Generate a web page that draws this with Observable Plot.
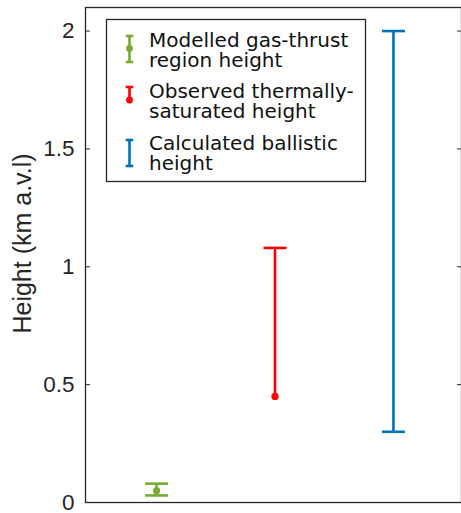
<!DOCTYPE html>
<html><head><meta charset="utf-8">
<script src="https://cdn.jsdelivr.net/npm/d3@7"></script>
<script src="https://cdn.jsdelivr.net/npm/@observablehq/plot@0.6"></script>
<style>
body{margin:0;background:#fff;overflow:hidden}
#wrap{position:relative;width:461px;height:513px}
#legend{position:absolute;left:0;top:0}
</style>
</head><body><div id="wrap"></div>
<script>
const seriesNames = ["Modelled gas-thrust region height", "Observed thermally-saturated height", "Calculated ballistic height"];
const legendLines = [["Modelled gas-thrust", "region height"], ["Observed thermally-", "saturated height"], ["Calculated ballistic", "height"]];
const xPositions = [1, 2, 3];
const lowValues = [0.03, 0.45, 0.30];
const highValues = [0.08, 1.08, 2.0];
const markerValues = [0.05, 0.45, null];
const hasLowCap = [true, false, true];
const seriesColors = ["#77AC30", "#FF0000", "#0072BD"];
const yTicks = [0, 0.5, 1, 1.5, 2];
const yLabel = "Height (km a.v.l)";

const data = seriesNames.map((name, i) => ({
  name, x: xPositions[i], low: lowValues[i], high: highValues[i],
  mark: markerValues[i], lowCap: hasLowCap[i], color: seriesColors[i]
}));
const capHalf = 0.097;
const ink = "#262626";

const plot = Plot.plot({
  width: 461, height: 513,
  marginLeft: 85, marginTop: 7, marginBottom: 11, marginRight: 0,
  style: {fontFamily: "'Liberation Sans', Arial, sans-serif", fontSize: "22px", color: ink, background: "white"},
  x: {domain: [0.4, 3.6], range: [85, 464], axis: null},
  y: {domain: [0, 2.1], axis: null},
  color: {type: "identity"},
  marks: [
    Plot.frame({stroke: ink, strokeWidth: 1.3}),
    Plot.axisY(yTicks, {anchor: "left", tickSize: -5, tickPadding: 16, tickFormat: d => String(d), fontSize: 22.5, label: null, stroke: ink, fill: ink}),
    Plot.axisY(yTicks, {anchor: "right", tickSize: -5, tickFormat: () => "", label: null, stroke: ink}),
    Plot.text([yLabel], {frameAnchor: "left", textAnchor: "middle", lineAnchor: "middle", rotate: -90, dx: -63, dy: -11.5, fontSize: 25, fill: ink, text: d => d}),
    Plot.ruleX(data, {x: "x", y1: "low", y2: "high", stroke: "color", strokeWidth: 2.6}),
    Plot.link(data, {x1: d => d.x - capHalf, x2: d => d.x + capHalf, y1: "high", y2: "high", stroke: "color", strokeWidth: 2.6}),
    Plot.link(data.filter(d => d.lowCap), {x1: d => d.x - capHalf, x2: d => d.x + capHalf, y1: "low", y2: "low", stroke: "color", strokeWidth: 2.6}),
    Plot.dot(data.filter(d => d.mark != null), {x: "x", y: "mark", r: 3.6, fill: "color", stroke: "none"})
  ]
});
const wrap = document.getElementById("wrap");
wrap.appendChild(plot);

// Legend overlay
const leg = d3.select(wrap).append("svg").attr("id", "legend").attr("width", 461).attr("height", 513);
leg.append("rect").attr("x", 106.5).attr("y", 19.5).attr("width", 259).attr("height", 162)
  .attr("fill", "white").attr("stroke", ink).attr("stroke-width", 1.3);
const iconX = 129.5;
const rows = [
  {top: 36, bottom: 62, dot: 48.5, topCap: true, botCap: true, base: 46.5},
  {top: 87, bottom: 100, dot: 100, topCap: true, botCap: false, base: 97.5},
  {top: 140, bottom: 166, dot: null, topCap: true, botCap: true, base: 149.5}
];
rows.forEach((r, i) => {
  const g = leg.append("g").attr("stroke", seriesColors[i]).attr("stroke-width", 2.6);
  g.append("line").attr("x1", iconX).attr("x2", iconX).attr("y1", r.top).attr("y2", r.bottom);
  if (r.topCap) g.append("line").attr("x1", iconX - 3.8).attr("x2", iconX + 3.8).attr("y1", r.top).attr("y2", r.top);
  if (r.botCap) g.append("line").attr("x1", iconX - 3.8).attr("x2", iconX + 3.8).attr("y1", r.bottom).attr("y2", r.bottom);
  if (r.dot != null) leg.append("circle").attr("cx", iconX).attr("cy", r.dot).attr("r", 3.4).attr("fill", seriesColors[i]);
  legendLines[i].forEach((t, j) => {
    leg.append("text").attr("x", 149).attr("y", r.base + j * 20.5)
      .attr("font-family", "'DejaVu Sans', Verdana, sans-serif").attr("font-size", 20).attr("fill", "#111").text(t);
  });
});
</script>
</body></html>
